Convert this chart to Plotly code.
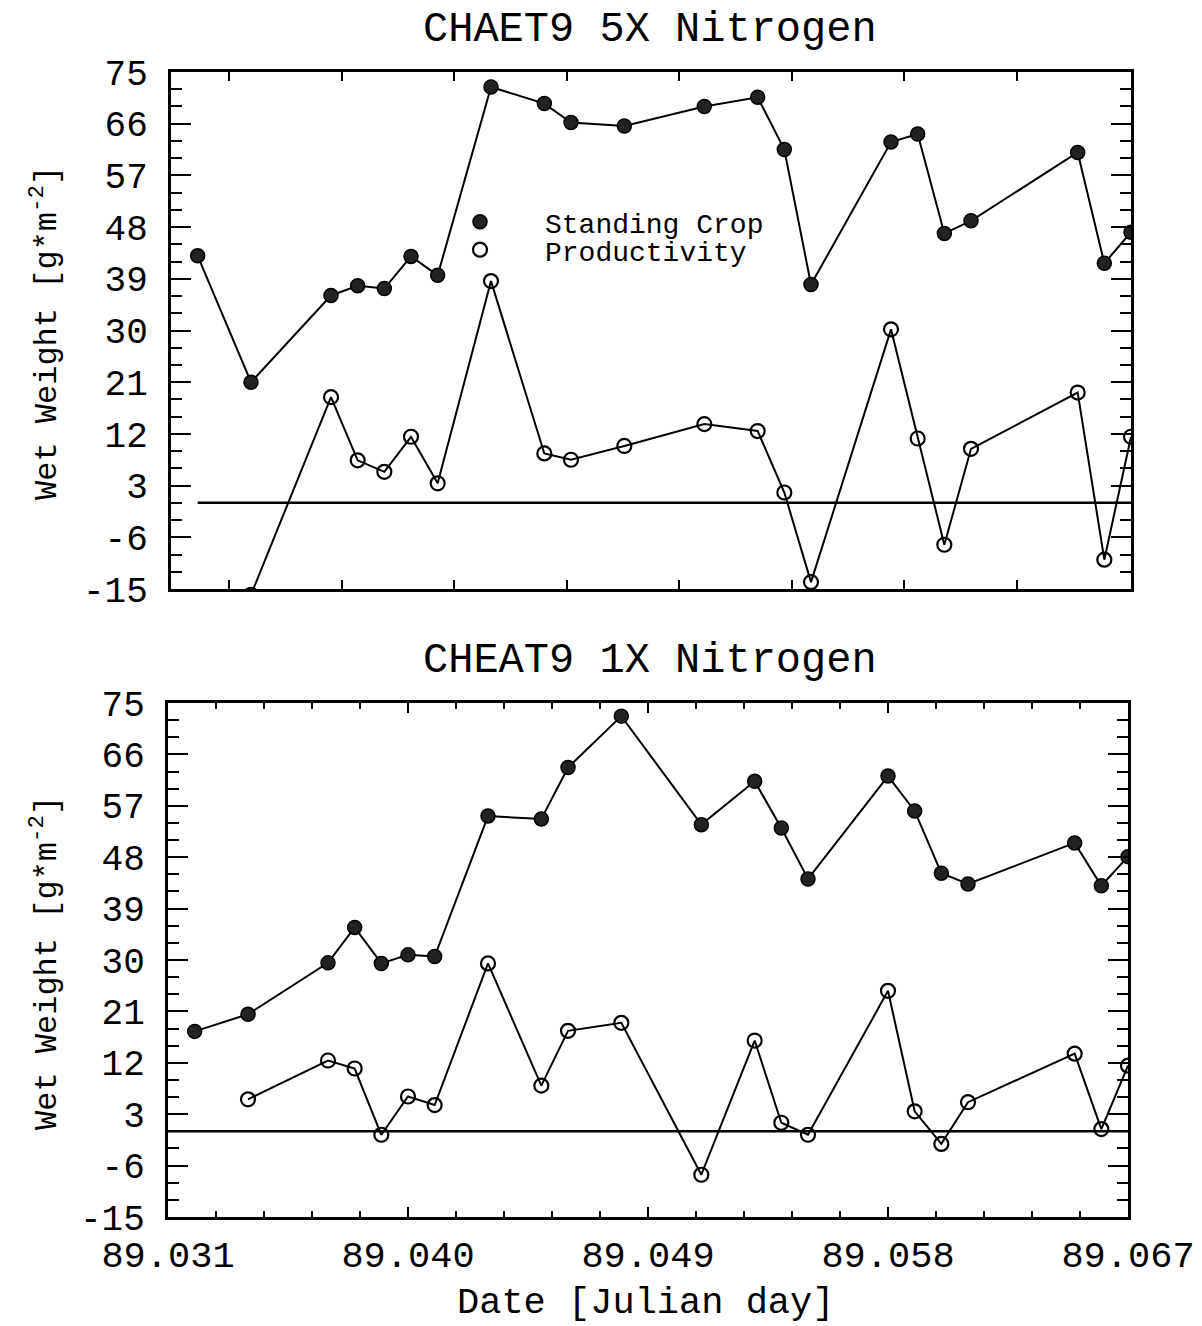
import plotly.graph_objects as go

# Sampling dates (Julian day) shared by both treatments
dates = [89.032, 89.034, 89.037, 89.038, 89.039, 89.040, 89.041, 89.043,
         89.045, 89.046, 89.048, 89.051, 89.053, 89.054, 89.055, 89.058,
         89.059, 89.060, 89.061, 89.065, 89.066, 89.067]

# CHAET9 5X Nitrogen
standing_5x = [43.0, 21.0, 36.1, 37.8, 37.3, 42.9, 39.6, 72.4, 69.5, 66.2, 65.6,
               69.0, 70.6, 61.5, 38.0, 62.8, 64.2, 46.9, 49.1, 61.0, 41.7, 47.1]
productivity_5x = [-16.0, 18.4, 7.4, 5.4, 11.5, 3.4, 38.6, 8.6, 7.5, 9.9, 13.7,
                   12.5, 1.8, -13.8, 30.2, 11.2, -7.3, 9.4, 19.2, -9.9, 11.5]

# CHEAT9 1X Nitrogen
standing_1x = [17.5, 20.5, 29.5, 35.7, 29.4, 30.9, 30.6, 55.2, 54.7, 63.7, 72.7,
               53.7, 61.3, 53.1, 44.2, 62.2, 56.1, 45.2, 43.3, 50.5, 43.0, 48.1]
productivity_1x = [5.6, 12.4, 11.0, -0.6, 6.1, 4.6, 29.4, 8.0, 17.6, 19.0, -7.6,
                   15.9, 1.5, -0.6, 24.6, 3.5, -2.2, 5.1, 13.6, 0.4, 11.5]

# Axis ticks and labels
y_ticks = [75, 66, 57, 48, 39, 30, 21, 12, 3, -6, -15]
y_labels = ["75", "66", "57", "48", "39", "30", "21", "12", "3", "-6", "-15"]
x_ticks = [89.031, 89.040, 89.049, 89.058, 89.067]
x_labels = ["89.031", "89.040", "89.049", "89.058", "89.067"]
x_ticks_top_panel = [89.03319, 89.03741, 89.04163, 89.04585, 89.05006,
                     89.05428, 89.05850, 89.06272]
x_range = [89.031, 89.067]
y_range = [-15, 75]

titles = ["CHAET9 5X Nitrogen", "CHEAT9 1X Nitrogen"]
y_title = "Wet Weight [g*m<sup>-2</sup>]"
x_title = "Date [Julian day]"

W, H = 1202, 1326
FONT = "Liberation Mono"
INK = "black"


def px_x(p):
    return p / W


def px_y(p):
    return 1 - p / H


fig = go.Figure()

panels = [
    ("x", "y", standing_5x, productivity_5x, True),
    ("x2", "y2", standing_1x, productivity_1x, False),
]

for xa, ya, stand, prod, show in panels:
    fig.add_trace(go.Scatter(x=dates, y=stand, mode="lines", xaxis=xa, yaxis=ya,
                             line=dict(color=INK, width=2), showlegend=False,
                             hoverinfo="skip"))
    fig.add_trace(go.Scatter(x=dates[1:], y=prod, mode="lines", xaxis=xa, yaxis=ya,
                             line=dict(color=INK, width=2), showlegend=False,
                             hoverinfo="skip"))
    fig.add_trace(go.Scatter(x=dates, y=stand, mode="markers", xaxis=xa, yaxis=ya,
                             name="Standing Crop", legend="legend", showlegend=show,
                             marker=dict(symbol="circle", size=14, color="#222222",
                                         line=dict(color=INK, width=1.5))))
    fig.add_trace(go.Scatter(x=dates[1:], y=prod, mode="markers", xaxis=xa, yaxis=ya,
                             name="Productivity", legend="legend2", showlegend=show,
                             marker=dict(symbol="circle-open", size=14, color=INK,
                                         line=dict(color=INK, width=2.2))))

tick_font = dict(family=FONT, size=37, color=INK)

common_x = dict(range=x_range, showline=True, linewidth=3, linecolor=INK, mirror="ticks",
                ticks="inside", tickcolor=INK, tickwidth=2, showgrid=False, zeroline=False,
                automargin=False)
common_y = dict(range=y_range, showline=True, linewidth=3, linecolor=INK, mirror="ticks",
                ticks="inside", tickcolor=INK, tickwidth=2, ticklen=20,
                tickvals=y_ticks, ticktext=y_labels, tickfont=dict(tick_font, size=36),
                ticklabelstandoff=13, showgrid=False, zeroline=False, automargin=False,
                minor=dict(dtick=3, tick0=0, ticks="inside", ticklen=11,
                           tickwidth=2, tickcolor=INK, showgrid=False))

fig.update_layout(
    width=W, height=H,
    margin=dict(l=0, r=0, t=0, b=0, autoexpand=False),
    paper_bgcolor="white", plot_bgcolor="white",
    xaxis=dict(common_x, domain=[px_x(171), px_x(1131)], anchor="y",
               tickvals=x_ticks_top_panel, showticklabels=False, ticklen=9),
    yaxis=dict(common_y, domain=[px_y(589), px_y(72)], anchor="x"),
    xaxis2=dict(common_x, domain=[px_x(168), px_x(1128)], anchor="y2",
                tickvals=x_ticks, ticktext=x_labels, tickfont=tick_font, ticklen=10,
                ticklabelstandoff=3,
                minor=dict(dtick=0.0018, tick0=89.031, ticks="inside", ticklen=6,
                           tickwidth=2, tickcolor=INK)),
    yaxis2=dict(common_y, domain=[px_y(1217), px_y(703)], anchor="x2"),
    legend=dict(x=px_x(415), y=px_y(222), xanchor="left", yanchor="middle",
                font=dict(family=FONT, size=28, color=INK), itemwidth=120,
                bgcolor="rgba(0,0,0,0)", borderwidth=0),
    legend2=dict(x=px_x(415), y=px_y(250), xanchor="left", yanchor="middle",
                 font=dict(family=FONT, size=28, color=INK), itemwidth=120,
                 bgcolor="rgba(0,0,0,0)", borderwidth=0),
)

# Zero reference lines
fig.add_shape(type="line", xref="x", yref="y", x0=dates[0], x1=x_range[1], y0=0, y1=0,
              line=dict(color=INK, width=2.5))
fig.add_shape(type="line", xref="x2", yref="y2", x0=x_range[0], x1=x_range[1], y0=0, y1=0,
              line=dict(color=INK, width=2.5))

# Panel titles
for text, yc in zip(titles, [30, 661]):
    fig.add_annotation(text=text, xref="paper", yref="paper", x=px_x(650), y=px_y(yc),
                       xanchor="center", yanchor="middle", showarrow=False,
                       font=dict(family=FONT, size=42, color=INK))

# Y axis titles
for yc in [333, 963]:
    fig.add_annotation(text=y_title, xref="paper", yref="paper", x=px_x(45), y=px_y(yc),
                       xanchor="center", yanchor="middle", textangle=-90, showarrow=False,
                       font=dict(family=FONT, size=32, color=INK))

# X axis title
fig.add_annotation(text=x_title, xref="paper", yref="paper", x=px_x(645), y=px_y(1303),
                   xanchor="center", yanchor="middle", showarrow=False,
                   font=dict(family=FONT, size=37, color=INK))

fig.write_html("out.html")
